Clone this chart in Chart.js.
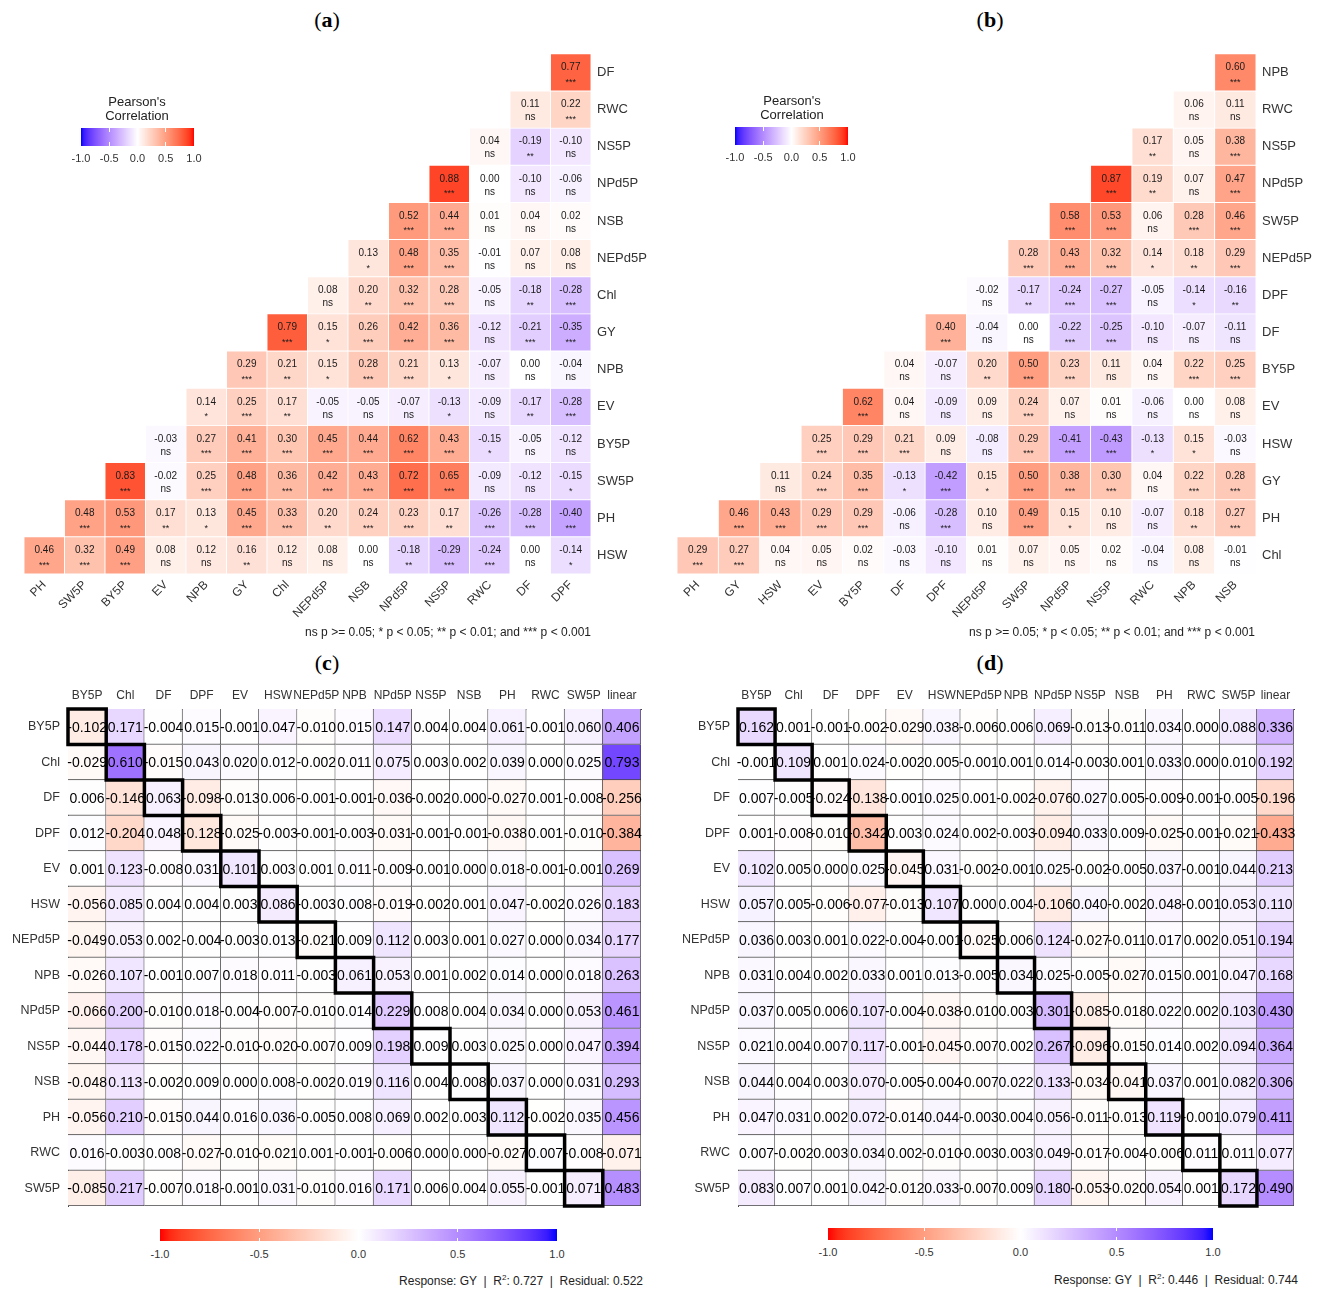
<!DOCTYPE html>
<html>
<head>
<meta charset="utf-8">
<title>Correlation and path coefficients</title>
<script src="https://cdn.jsdelivr.net/npm/chart.js@4.4.1/dist/chart.umd.min.js"></script>
<style>
  body { margin: 0; background: #fff; font-family: "Liberation Sans", Arial, sans-serif; color: #222; }
  #page { position: relative; width: 1325px; height: 1290px; overflow: hidden; }
  canvas { position: absolute; }
  .panel-title { position: absolute; width: 80px; margin-left: -40px; text-align: center;
    font-family: "Liberation Serif", "Times New Roman", serif; font-size: 22px; line-height: 24px; color: #000; }
  .legend-title { position: absolute; width: 140px; margin-left: -70px; text-align: center;
    font-size: 13px; line-height: 14px; color: #222; }
  .cbar, .cmark { position: absolute; }
  .cmark { background: #fff; width: 1px; }
  .tick { position: absolute; width: 40px; margin-left: -20px; text-align: center; font-size: 11px; line-height: 12px; color: #333; }
  .note { position: absolute; font-size: 12px; line-height: 13px; color: #222; white-space: nowrap; }
  .note sup { font-size: 8px; line-height: 0; }
</style>
</head>
<body>
<div id="page">
  <div class="panel-title" style="left:327px;top:8px">(<b>a</b>)</div>
  <div class="panel-title" style="left:990px;top:8px">(<b>b</b>)</div>
  <div class="panel-title" style="left:327px;top:651px">(<b>c</b>)</div>
  <div class="panel-title" style="left:990px;top:651px">(<b>d</b>)</div>

  <canvas id="chartA" width="660" height="600" style="left:0;top:40px"></canvas>
  <canvas id="chartB" width="655" height="600" style="left:670px;top:40px"></canvas>
  <canvas id="chartC" width="660" height="545" style="left:0;top:680px"></canvas>
  <canvas id="chartD" width="665" height="545" style="left:660px;top:680px"></canvas>

  <div class="legend-title" style="left:137px;top:95px">Pearson's<br>Correlation</div>
  <div class="legend-title" style="left:792px;top:94px">Pearson's<br>Correlation</div>

  <div class="note" style="right:734px;top:626px">ns p &gt;= 0.05; * p &lt; 0.05; ** p &lt; 0.01; and *** p &lt; 0.001</div>
  <div class="note" style="right:70px;top:626px">ns p &gt;= 0.05; * p &lt; 0.05; ** p &lt; 0.01; and *** p &lt; 0.001</div>
  <div class="note" id="footC" style="right:682px;top:1275px"></div>
  <div class="note" id="footD" style="right:27px;top:1274px"></div>
</div>

<script>
// ---- (a) Pearson correlations, lower triangle (rows top to bottom, right-aligned)
const aRowLabels = ["DF", "RWC", "NS5P", "NPd5P", "NSB", "NEPd5P", "Chl", "GY", "NPB", "EV", "BY5P", "SW5P", "PH", "HSW"];
const aColLabels = ["PH", "SW5P", "BY5P", "EV", "NPB", "GY", "Chl", "NEPd5P", "NSB", "NPd5P", "NS5P", "RWC", "DF", "DPF"];
const aValues = [
  [0.77],
  [0.11, 0.22],
  [0.04, -0.19, -0.10],
  [0.88, 0.00, -0.10, -0.06],
  [0.52, 0.44, 0.01, 0.04, 0.02],
  [0.13, 0.48, 0.35, -0.01, 0.07, 0.08],
  [0.08, 0.20, 0.32, 0.28, -0.05, -0.18, -0.28],
  [0.79, 0.15, 0.26, 0.42, 0.36, -0.12, -0.21, -0.35],
  [0.29, 0.21, 0.15, 0.28, 0.21, 0.13, -0.07, 0.00, -0.04],
  [0.14, 0.25, 0.17, -0.05, -0.05, -0.07, -0.13, -0.09, -0.17, -0.28],
  [-0.03, 0.27, 0.41, 0.30, 0.45, 0.44, 0.62, 0.43, -0.15, -0.05, -0.12],
  [0.83, -0.02, 0.25, 0.48, 0.36, 0.42, 0.43, 0.72, 0.65, -0.09, -0.12, -0.15],
  [0.48, 0.53, 0.17, 0.13, 0.45, 0.33, 0.20, 0.24, 0.23, 0.17, -0.26, -0.28, -0.40],
  [0.46, 0.32, 0.49, 0.08, 0.12, 0.16, 0.12, 0.08, 0.00, -0.18, -0.29, -0.24, 0.00, -0.14]
];
const aSignif = [
  ["***"],
  ["ns", "***"],
  ["ns", "**", "ns"],
  ["***", "ns", "ns", "ns"],
  ["***", "***", "ns", "ns", "ns"],
  ["*", "***", "***", "ns", "ns", "ns"],
  ["ns", "**", "***", "***", "ns", "**", "***"],
  ["***", "*", "***", "***", "***", "ns", "***", "***"],
  ["***", "**", "*", "***", "***", "*", "ns", "ns", "ns"],
  ["*", "***", "**", "ns", "ns", "ns", "*", "ns", "**", "***"],
  ["ns", "***", "***", "***", "***", "***", "***", "***", "*", "ns", "ns"],
  ["***", "ns", "***", "***", "***", "***", "***", "***", "***", "ns", "ns", "*"],
  ["***", "***", "**", "*", "***", "***", "**", "***", "***", "**", "***", "***", "***"],
  ["***", "***", "***", "ns", "ns", "**", "ns", "ns", "ns", "**", "***", "***", "ns", "*"]
];

// ---- (b) Pearson correlations
const bRowLabels = ["NPB", "RWC", "NS5P", "NPd5P", "SW5P", "NEPd5P", "DPF", "DF", "BY5P", "EV", "HSW", "GY", "PH", "Chl"];
const bColLabels = ["PH", "GY", "HSW", "EV", "BY5P", "DF", "DPF", "NEPd5P", "SW5P", "NPd5P", "NS5P", "RWC", "NPB", "NSB"];
const bValues = [
  [0.60],
  [0.06, 0.11],
  [0.17, 0.05, 0.38],
  [0.87, 0.19, 0.07, 0.47],
  [0.58, 0.53, 0.06, 0.28, 0.46],
  [0.28, 0.43, 0.32, 0.14, 0.18, 0.29],
  [-0.02, -0.17, -0.24, -0.27, -0.05, -0.14, -0.16],
  [0.40, -0.04, 0.00, -0.22, -0.25, -0.10, -0.07, -0.11],
  [0.04, -0.07, 0.20, 0.50, 0.23, 0.11, 0.04, 0.22, 0.25],
  [0.62, 0.04, -0.09, 0.09, 0.24, 0.07, 0.01, -0.06, 0.00, 0.08],
  [0.25, 0.29, 0.21, 0.09, -0.08, 0.29, -0.41, -0.43, -0.13, 0.15, -0.03],
  [0.11, 0.24, 0.35, -0.13, -0.42, 0.15, 0.50, 0.38, 0.30, 0.04, 0.22, 0.28],
  [0.46, 0.43, 0.29, 0.29, -0.06, -0.28, 0.10, 0.49, 0.15, 0.10, -0.07, 0.18, 0.27],
  [0.29, 0.27, 0.04, 0.05, 0.02, -0.03, -0.10, 0.01, 0.07, 0.05, 0.02, -0.04, 0.08, -0.01]
];
const bSignif = [
  ["***"],
  ["ns", "ns"],
  ["**", "ns", "***"],
  ["***", "**", "ns", "***"],
  ["***", "***", "ns", "***", "***"],
  ["***", "***", "***", "*", "**", "***"],
  ["ns", "**", "***", "***", "ns", "*", "**"],
  ["***", "ns", "ns", "***", "***", "ns", "ns", "ns"],
  ["ns", "ns", "**", "***", "***", "ns", "ns", "***", "***"],
  ["***", "ns", "ns", "ns", "***", "ns", "ns", "ns", "ns", "ns"],
  ["***", "***", "***", "ns", "ns", "***", "***", "***", "*", "*", "ns"],
  ["ns", "***", "***", "*", "***", "*", "***", "***", "***", "ns", "***", "***"],
  ["***", "***", "***", "***", "ns", "***", "ns", "***", "*", "ns", "ns", "**", "***"],
  ["***", "***", "ns", "ns", "ns", "ns", "ns", "ns", "ns", "ns", "ns", "ns", "ns", "ns"]
];

// ---- (c) and (d) path coefficients (direct effects on the diagonal)
const pathRowLabels = ["BY5P", "Chl", "DF", "DPF", "EV", "HSW", "NEPd5P", "NPB", "NPd5P", "NS5P", "NSB", "PH", "RWC", "SW5P"];
const pathColLabels = ["BY5P", "Chl", "DF", "DPF", "EV", "HSW", "NEPd5P", "NPB", "NPd5P", "NS5P", "NSB", "PH", "RWC", "SW5P", "linear"];
const cValues = [
  [-0.102, 0.171, -0.004, 0.015, -0.001, 0.047, -0.010, 0.015, 0.147, 0.004, 0.004, 0.061, -0.001, 0.060, 0.406],
  [-0.029, 0.610, -0.015, 0.043, 0.020, 0.012, -0.002, 0.011, 0.075, 0.003, 0.002, 0.039, 0.000, 0.025, 0.793],
  [0.006, -0.146, 0.063, -0.098, -0.013, 0.006, -0.001, -0.001, -0.036, -0.002, 0.000, -0.027, 0.001, -0.008, -0.256],
  [0.012, -0.204, 0.048, -0.128, -0.025, -0.003, -0.001, -0.003, -0.031, -0.001, -0.001, -0.038, 0.001, -0.010, -0.384],
  [0.001, 0.123, -0.008, 0.031, 0.101, 0.003, 0.001, 0.011, -0.009, -0.001, 0.000, 0.018, -0.001, -0.001, 0.269],
  [-0.056, 0.085, 0.004, 0.004, 0.003, 0.086, -0.003, 0.008, -0.019, -0.002, 0.001, 0.047, -0.002, 0.026, 0.183],
  [-0.049, 0.053, 0.002, -0.004, -0.003, 0.013, -0.021, 0.009, 0.112, 0.003, 0.001, 0.027, 0.000, 0.034, 0.177],
  [-0.026, 0.107, -0.001, 0.007, 0.018, 0.011, -0.003, 0.061, 0.053, 0.001, 0.002, 0.014, 0.000, 0.018, 0.263],
  [-0.066, 0.200, -0.010, 0.018, -0.004, -0.007, -0.010, 0.014, 0.229, 0.008, 0.004, 0.034, 0.000, 0.053, 0.461],
  [-0.044, 0.178, -0.015, 0.022, -0.010, -0.020, -0.007, 0.009, 0.198, 0.009, 0.003, 0.025, 0.000, 0.047, 0.394],
  [-0.048, 0.113, -0.002, 0.009, 0.000, 0.008, -0.002, 0.019, 0.116, 0.004, 0.008, 0.037, 0.000, 0.031, 0.293],
  [-0.056, 0.210, -0.015, 0.044, 0.016, 0.036, -0.005, 0.008, 0.069, 0.002, 0.003, 0.112, -0.002, 0.035, 0.456],
  [0.016, -0.003, 0.008, -0.027, -0.010, -0.021, 0.001, -0.001, -0.006, 0.000, 0.000, -0.027, 0.007, -0.008, -0.071],
  [-0.085, 0.217, -0.007, 0.018, -0.001, 0.031, -0.010, 0.016, 0.171, 0.006, 0.004, 0.055, -0.001, 0.071, 0.483]
];
const dValues = [
  [0.162, 0.001, -0.001, -0.002, -0.029, 0.038, -0.006, 0.006, 0.069, -0.013, -0.011, 0.034, 0.000, 0.088, 0.336],
  [-0.001, 0.109, 0.001, 0.024, -0.002, 0.005, -0.001, 0.001, 0.014, -0.003, 0.001, 0.033, 0.000, 0.010, 0.192],
  [0.007, -0.005, -0.024, -0.138, -0.001, 0.025, 0.001, -0.002, -0.076, 0.027, 0.005, -0.009, -0.001, -0.005, -0.196],
  [0.001, -0.008, -0.010, -0.342, 0.003, 0.024, 0.002, -0.003, -0.094, 0.033, 0.009, -0.025, -0.001, -0.021, -0.433],
  [0.102, 0.005, 0.000, 0.025, -0.045, 0.031, -0.002, -0.001, 0.025, -0.002, -0.005, 0.037, -0.001, 0.044, 0.213],
  [0.057, 0.005, -0.006, -0.077, -0.013, 0.107, 0.000, 0.004, -0.106, 0.040, -0.002, 0.048, -0.001, 0.053, 0.110],
  [0.036, 0.003, 0.001, 0.022, -0.004, -0.001, -0.025, 0.006, 0.124, -0.027, -0.011, 0.017, 0.002, 0.051, 0.194],
  [0.031, 0.004, 0.002, 0.033, 0.001, 0.013, -0.005, 0.034, 0.025, -0.005, -0.027, 0.015, 0.001, 0.047, 0.168],
  [0.037, 0.005, 0.006, 0.107, -0.004, -0.038, -0.010, 0.003, 0.301, -0.085, -0.018, 0.022, 0.002, 0.103, 0.430],
  [0.021, 0.004, 0.007, 0.117, -0.001, -0.045, -0.007, 0.002, 0.267, -0.096, -0.015, 0.014, 0.002, 0.094, 0.364],
  [0.044, 0.004, 0.003, 0.070, -0.005, -0.004, -0.007, 0.022, 0.133, -0.034, -0.041, 0.037, 0.001, 0.082, 0.306],
  [0.047, 0.031, 0.002, 0.072, -0.014, 0.044, -0.003, 0.004, 0.056, -0.011, -0.013, 0.119, -0.001, 0.079, 0.411],
  [0.007, -0.002, 0.003, 0.034, 0.002, -0.010, -0.003, 0.003, 0.049, -0.017, -0.004, -0.006, 0.011, 0.011, 0.077],
  [0.083, 0.007, 0.001, 0.042, -0.012, 0.033, -0.007, 0.009, 0.180, -0.053, -0.020, 0.054, 0.001, 0.172, 0.490]
];
const cFit = { response: "GY", r2: 0.727, residual: 0.522 };
const dFit = { response: "GY", r2: 0.446, residual: 0.744 };
const legendTicks = [-1.0, -0.5, 0.0, 0.5, 1.0];

// ---- colours: white to red / white to blue, interpolated in Lab like ggplot2
function toLab(hex) {
  const lin = [1, 3, 5].map(i => parseInt(hex.substr(i, 2), 16) / 255)
    .map(c => (c <= 0.04045 ? c / 12.92 : Math.pow((c + 0.055) / 1.055, 2.4)));
  const [r, g, b] = lin;
  const x = (r * 0.4124 + g * 0.3576 + b * 0.1805) / 0.95047;
  const y = r * 0.2126 + g * 0.7152 + b * 0.0722;
  const z = (r * 0.0193 + g * 0.1192 + b * 0.9505) / 1.08883;
  const f = t => (t > 0.008856 ? Math.cbrt(t) : 7.787 * t + 16 / 116);
  return [116 * f(y) - 16, 500 * (f(x) - f(y)), 200 * (f(y) - f(z))];
}
function fromLab(lab) {
  const fy = (lab[0] + 16) / 116, fx = fy + lab[1] / 500, fz = fy - lab[2] / 200;
  const fi = t => (t * t * t > 0.008856 ? t * t * t : (t - 16 / 116) / 7.787);
  const x = fi(fx) * 0.95047, y = fi(fy), z = fi(fz) * 1.08883;
  const rgb = [
    x * 3.2406 - y * 1.5372 - z * 0.4986,
    -x * 0.9689 + y * 1.8758 + z * 0.0415,
    x * 0.0557 - y * 0.2040 + z * 1.0570
  ];
  return rgb.map(c => {
    c = c <= 0.0031308 ? 12.92 * c : 1.055 * Math.pow(c, 1 / 2.4) - 0.055;
    return Math.round(Math.max(0, Math.min(1, c)) * 255);
  });
}
const WHITE = toLab("#FFFFFF"), RED = toLab("#FF0000"), BLUE = toLab("#0000FF");
function blend(end, t) {
  t = Math.min(1, Math.abs(t));
  return "rgb(" + fromLab(WHITE.map((w, i) => w + (end[i] - w) * t)).join(",") + ")";
}
const corrColour = v => blend(v < 0 ? BLUE : RED, v);
const pathColour = v => blend(v < 0 ? RED : BLUE, v);

function padLeft(rows, n) {
  return rows.map(r => Array(n - r.length).fill(null).concat(r));
}

// ---- text drawn on the cells
const corrText = {
  id: "corrText",
  afterDatasetsDraw(chart) {
    const ctx = chart.ctx;
    ctx.save();
    ctx.textAlign = "center";
    ctx.textBaseline = "middle";
    ctx.fillStyle = "#1a1a1a";
    chart.data.datasets.forEach((ds, k) => {
      chart.getDatasetMeta(k).data.forEach((el, j) => {
        const v = ds.cellValues[j];
        if (v === null) return;
        const cy = (el.y + el.base) / 2;
        ctx.font = "10px 'Liberation Sans', Arial";
        ctx.fillText(v.toFixed(2), el.x, cy - 5);
        const s = ds.cellSignif[j];
        ctx.font = s === "ns" ? "10px 'Liberation Sans', Arial" : "9px 'Liberation Sans', Arial";
        ctx.fillText(s, el.x, s === "ns" ? cy + 8 : cy + 10);
      });
    });
    ctx.restore();
  }
};

const pathText = {
  id: "pathText",
  afterDatasetsDraw(chart) {
    const ctx = chart.ctx;
    ctx.save();
    ctx.textAlign = "center";
    ctx.textBaseline = "middle";
    ctx.fillStyle = "#000";
    ctx.font = "14px 'Liberation Sans', Arial";
    chart.data.datasets.forEach((ds, k) => {
      chart.getDatasetMeta(k).data.forEach((el, j) => {
        ctx.fillText(ds.cellValues[j].toFixed(3), el.x, (el.y + el.base) / 2 + 1);
      });
    });
    // thick outline round the direct effects
    ctx.lineWidth = 3.5;
    ctx.strokeStyle = "#000";
    chart.data.datasets.forEach((ds, k) => {
      const el = chart.getDatasetMeta(k).data[k];
      ctx.strokeRect(el.x - el.width / 2, Math.min(el.y, el.base), el.width, Math.abs(el.base - el.y));
    });
    ctx.restore();
  }
};

function heatmap(canvasId, cfg) {
  const ctx = document.getElementById(canvasId).getContext("2d");
  const datasets = cfg.values.map((row, k) => ({
    data: row.map(v => (v === null ? null : [k, k + 1])),
    cellValues: row,
    cellSignif: cfg.signif ? cfg.signif[k] : null,
    backgroundColor: row.map(v => (v === null ? "rgba(0,0,0,0)" : cfg.colour(v))),
    borderColor: cfg.borderColor,
    borderWidth: cfg.borderWidth,
    borderSkipped: false,
    grouped: false,
    barPercentage: 1,
    categoryPercentage: 1
  }));

  return new Chart(ctx, {
    type: "bar",
    data: { labels: cfg.cols, datasets: datasets },
    options: {
      responsive: false,
      animation: false,
      devicePixelRatio: 1,
      layout: { padding: cfg.padding },
      plugins: { legend: { display: false }, tooltip: { enabled: false } },
      scales: {
        x: {
          position: cfg.xPos,
          grid: { display: false, drawTicks: false },
          border: cfg.border,
          ticks: {
            autoSkip: false,
            maxRotation: cfg.rotation,
            minRotation: cfg.rotation,
            padding: cfg.xPad,
            color: "#333",
            font: { family: "'Liberation Sans', Arial", size: 12 }
          },
          afterFit: s => { s.height = cfg.xSize; }
        },
        y: {
          type: "linear",
          position: cfg.yPos,
          min: 0,
          max: cfg.rows.length,
          reverse: true,
          grid: { display: false, drawTicks: false },
          border: cfg.border,
          afterBuildTicks: s => { s.ticks = cfg.rows.map((r, k) => ({ value: k + 0.5 })); },
          ticks: {
            autoSkip: false,
            padding: cfg.yPad,
            color: "#333",
            font: { family: "'Liberation Sans', Arial", size: cfg.yFont },
            callback: v => cfg.rows[Math.floor(v)]
          },
          afterFit: s => { s.width = cfg.ySize; }
        }
      }
    },
    plugins: [cfg.plugin]
  });
}

const corrStyle = {
  colour: corrColour,
  borderColor: "#fff",
  borderWidth: 0.8,
  border: { display: false },
  xPos: "bottom",
  yPos: "right",
  rotation: 45,
  xPad: 4,
  yPad: 6,
  yFont: 13,
  xSize: 66,
  ySize: 69,
  plugin: corrText
};
const pathStyle = {
  colour: pathColour,
  borderColor: "#444",
  borderWidth: { top: 0, left: 0, right: 1, bottom: 1 },
  border: { display: true, color: "#444", width: 1 },
  xPos: "top",
  yPos: "left",
  rotation: 0,
  xPad: 6,
  yPad: 8,
  yFont: 12.5,
  xSize: 29,
  plugin: pathText
};

heatmap("chartA", Object.assign({}, corrStyle, {
  rows: aRowLabels, cols: aColLabels,
  values: padLeft(aValues, aColLabels.length), signif: padLeft(aSignif, aColLabels.length),
  padding: { left: 24, top: 10, right: 0, bottom: 0 }
}));
heatmap("chartB", Object.assign({}, corrStyle, {
  rows: bRowLabels, cols: bColLabels,
  values: padLeft(bValues, bColLabels.length), signif: padLeft(bSignif, bColLabels.length),
  padding: { left: 7, top: 10, right: 0, bottom: 0 }
}));
heatmap("chartC", Object.assign({}, pathStyle, {
  rows: pathRowLabels, cols: pathColLabels, values: cValues,
  ySize: 68, padding: { left: 0, top: 0, right: 19, bottom: 19 }
}));
heatmap("chartD", Object.assign({}, pathStyle, {
  rows: pathRowLabels, cols: pathColLabels, values: dValues,
  ySize: 78, padding: { left: 0, top: 0, right: 31, bottom: 19 }
}));

// ---- colour bar legends
function colourBar(x, y, w, h, colourFn, labelY, markLen) {
  const page = document.getElementById("page");
  const stops = [];
  for (let i = 0; i <= 40; i++) stops.push(colourFn(-1 + i * 0.05) + " " + (i * 2.5) + "%");
  const bar = document.createElement("div");
  bar.className = "cbar";
  bar.style.cssText = `left:${x}px;top:${y}px;width:${w}px;height:${h}px;background:linear-gradient(to right,${stops.join(",")})`;
  page.appendChild(bar);
  legendTicks.forEach(v => {
    const px = x + (v + 1) / 2 * w;
    if (v > -1 && v < 1) {
      [y, y + h - markLen].forEach(my => {
        const m = document.createElement("div");
        m.className = "cmark";
        m.style.cssText = `left:${px - 0.5}px;top:${my}px;height:${markLen}px`;
        page.appendChild(m);
      });
    }
    const t = document.createElement("div");
    t.className = "tick";
    t.style.left = px + "px";
    t.style.top = (labelY - 6) + "px";
    t.textContent = v.toFixed(1);
    page.appendChild(t);
  });
}
colourBar(81, 128, 113, 18, corrColour, 158, 4);
colourBar(735, 127, 113, 18, corrColour, 157, 4);
colourBar(160, 1229, 397, 12, pathColour, 1254, 3);
colourBar(828, 1228, 385, 12, pathColour, 1252, 3);

function fitText(el, fit) {
  el.innerHTML = `Response: ${fit.response} &nbsp;|&nbsp; R<sup>2</sup>: ${fit.r2.toFixed(3)} &nbsp;|&nbsp; Residual: ${fit.residual.toFixed(3)}`;
}
fitText(document.getElementById("footC"), cFit);
fitText(document.getElementById("footD"), dFit);
</script>
</body>
</html>
